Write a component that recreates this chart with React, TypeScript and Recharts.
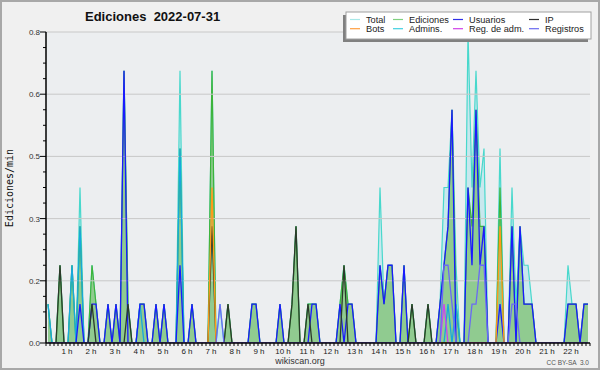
import React from "react";
import {
  ComposedChart,
  Area,
  Line,
  XAxis,
  YAxis,
  CartesianGrid,
  ReferenceLine,
} from "recharts";

// one value per 10 minutes, from 00:00 to 22:40, in edits per minute
const TOTAL = [
  0.1, 0, 0, 0.2, 0, 0, 0.2, 0, 0.4, 0, 0, 0.2,
  0.1, 0, 0, 0.1, 0, 0.1, 0, 0.7, 0.1, 0, 0, 0.1,
  0.1, 0, 0, 0.1, 0, 0.1, 0, 0, 0, 0.7, 0, 0,
  0.1, 0, 0, 0, 0, 0.7, 0, 0.1, 0, 0.1, 0, 0,
  0, 0, 0, 0.1, 0.1, 0, 0, 0, 0, 0, 0.1, 0,
  0, 0.1, 0.3, 0, 0, 0.1, 0.1, 0.1, 0, 0, 0, 0,
  0, 0.1, 0.2, 0.1, 0.1, 0, 0, 0, 0, 0, 0, 0.4,
  0.1, 0.2, 0.2, 0, 0, 0.2, 0, 0.1, 0, 0, 0, 0.1,
  0, 0, 0.1, 0.4, 0.4, 0.6, 0.2, 0, 0, 0.8, 0.4, 0.7,
  0.4, 0.5, 0, 0, 0, 0.5, 0, 0, 0.4, 0.1, 0.3, 0.2,
  0.2, 0.1, 0, 0, 0, 0, 0, 0, 0, 0, 0.2, 0.1,
  0.1, 0, 0.1, 0.1,
];

const EDITS = [
  0.1, 0, 0, 0.2, 0, 0, 0.2, 0, 0.3, 0, 0, 0.2,
  0.1, 0, 0, 0.1, 0, 0.1, 0, 0.7, 0.1, 0, 0, 0.1,
  0.1, 0, 0, 0.1, 0, 0.1, 0, 0, 0, 0.5, 0, 0,
  0.1, 0, 0, 0, 0, 0.7, 0, 0, 0, 0.1, 0, 0,
  0, 0, 0, 0.1, 0.1, 0, 0, 0, 0, 0, 0.1, 0,
  0, 0.1, 0.3, 0, 0, 0.1, 0.1, 0.1, 0, 0, 0, 0,
  0, 0.1, 0.2, 0.1, 0.1, 0, 0, 0, 0, 0, 0, 0.2,
  0.1, 0.2, 0.2, 0, 0, 0.2, 0, 0.1, 0, 0, 0, 0.1,
  0, 0, 0.1, 0.2, 0.3, 0.6, 0.1, 0, 0, 0.4, 0.3, 0.6,
  0.3, 0.3, 0, 0, 0, 0.4, 0, 0, 0.3, 0, 0.3, 0.1,
  0.1, 0.1, 0, 0, 0, 0, 0, 0, 0, 0, 0.1, 0.1,
  0.1, 0, 0.1, 0.1,
];

const USERS = [
  0, 0, 0, 0, 0, 0, 0, 0, 0.1, 0, 0, 0.1,
  0.1, 0, 0, 0.1, 0, 0.1, 0, 0.7, 0, 0, 0, 0.1,
  0.1, 0, 0, 0.1, 0, 0.1, 0, 0, 0, 0.2, 0, 0,
  0.1, 0, 0, 0, 0, 0, 0, 0, 0, 0, 0, 0,
  0, 0, 0, 0.1, 0.1, 0, 0, 0, 0, 0, 0.1, 0,
  0, 0, 0, 0, 0, 0, 0.1, 0.1, 0, 0, 0, 0,
  0, 0.1, 0, 0.1, 0.1, 0, 0, 0, 0, 0, 0, 0.2,
  0.1, 0.2, 0.2, 0, 0, 0.2, 0, 0, 0, 0, 0, 0,
  0, 0, 0.1, 0.2, 0.3, 0.6, 0, 0, 0, 0.4, 0.2, 0.6,
  0.2, 0.3, 0, 0, 0, 0.1, 0, 0, 0.3, 0, 0.3, 0.1,
  0.1, 0.1, 0, 0, 0, 0, 0, 0, 0, 0, 0.1, 0.1,
  0.1, 0, 0.1, 0.1,
];

const IP = [
  0, 0, 0, 0.2, 0, 0, 0, 0, 0, 0, 0, 0.1,
  0, 0, 0, 0, 0, 0, 0, 0, 0.1, 0, 0, 0,
  0, 0, 0, 0, 0, 0, 0, 0, 0, 0, 0, 0,
  0, 0, 0, 0, 0, 0.3, 0, 0, 0, 0.1, 0, 0,
  0, 0, 0, 0, 0, 0, 0, 0, 0, 0, 0, 0,
  0, 0.1, 0.3, 0, 0, 0.1, 0, 0, 0, 0, 0, 0,
  0, 0, 0.2, 0, 0, 0, 0, 0, 0, 0, 0, 0,
  0, 0, 0, 0, 0, 0, 0, 0.1, 0, 0, 0, 0.1,
  0, 0, 0, 0, 0, 0, 0, 0, 0, 0, 0, 0,
  0, 0, 0, 0, 0, 0, 0, 0, 0, 0, 0, 0,
  0, 0, 0, 0, 0, 0, 0, 0, 0, 0, 0, 0,
  0, 0, 0, 0,
];

const ADMINS = [
  0.1, 0, 0, 0, 0, 0, 0.2, 0, 0.3, 0, 0, 0,
  0, 0, 0, 0, 0, 0, 0, 0, 0, 0, 0, 0.1,
  0, 0, 0, 0, 0, 0, 0, 0, 0, 0.5, 0, 0,
  0, 0, 0, 0, 0, 0, 0, 0, 0, 0, 0, 0,
  0, 0, 0, 0, 0, 0, 0, 0, 0, 0, 0, 0,
  0, 0, 0, 0, 0, 0, 0, 0, 0, 0, 0, 0,
  0, 0, 0, 0, 0, 0, 0, 0, 0, 0, 0, 0,
  0, 0, 0, 0, 0, 0, 0, 0, 0, 0, 0, 0,
  0, 0, 0, 0, 0.1, 0, 0.1, 0, 0, 0, 0, 0,
  0, 0, 0, 0, 0, 0, 0, 0, 0, 0, 0, 0,
  0, 0, 0, 0, 0, 0, 0, 0, 0, 0, 0, 0,
  0, 0, 0, 0,
];

const BOTS = [
  0, 0, 0, 0, 0, 0, 0, 0, 0, 0, 0, 0,
  0, 0, 0, 0, 0, 0, 0, 0, 0, 0, 0, 0,
  0, 0, 0, 0, 0, 0, 0, 0, 0, 0, 0, 0,
  0, 0, 0, 0, 0, 0.4, 0, 0, 0, 0, 0, 0,
  0, 0, 0, 0, 0, 0, 0, 0, 0, 0, 0, 0,
  0, 0, 0, 0, 0, 0, 0, 0, 0, 0, 0, 0,
  0, 0, 0, 0, 0, 0, 0, 0, 0, 0, 0, 0,
  0, 0, 0, 0, 0, 0, 0, 0, 0, 0, 0, 0,
  0, 0, 0, 0, 0, 0, 0, 0, 0, 0, 0, 0,
  0, 0, 0, 0, 0, 0.3, 0, 0, 0, 0, 0, 0,
  0, 0, 0, 0, 0, 0, 0, 0, 0, 0, 0, 0,
  0, 0, 0, 0,
];

const REG_ADM = [
  0, 0, 0, 0, 0, 0, 0, 0, 0, 0, 0, 0,
  0, 0, 0, 0, 0, 0, 0, 0, 0, 0, 0, 0,
  0, 0, 0, 0, 0, 0, 0, 0, 0, 0, 0, 0,
  0, 0, 0, 0, 0, 0, 0, 0, 0, 0, 0, 0,
  0, 0, 0, 0, 0, 0, 0, 0, 0, 0, 0, 0,
  0, 0, 0, 0, 0, 0, 0, 0, 0, 0, 0, 0,
  0, 0, 0, 0, 0, 0, 0, 0, 0, 0, 0, 0,
  0, 0, 0, 0, 0, 0, 0, 0, 0, 0, 0, 0,
  0, 0, 0, 0.1, 0, 0, 0, 0, 0, 0, 0, 0,
  0, 0, 0, 0, 0, 0, 0, 0, 0, 0, 0, 0,
  0, 0, 0, 0, 0, 0, 0, 0, 0, 0, 0, 0,
  0, 0, 0, 0,
];

const LOGS = [
  0, 0, 0, 0, 0, 0, 0, 0, 0, 0, 0, 0,
  0, 0, 0, 0, 0, 0, 0, 0, 0, 0, 0, 0,
  0, 0, 0, 0, 0, 0, 0, 0, 0, 0, 0, 0,
  0, 0, 0, 0, 0, 0, 0, 0.1, 0, 0, 0, 0,
  0, 0, 0, 0, 0, 0, 0, 0, 0, 0, 0, 0,
  0, 0, 0, 0, 0, 0, 0, 0, 0, 0, 0, 0,
  0, 0, 0, 0, 0, 0, 0, 0, 0, 0, 0, 0,
  0, 0, 0, 0, 0, 0, 0, 0, 0, 0, 0, 0,
  0, 0, 0, 0.2, 0.2, 0.1, 0, 0, 0, 0, 0.1, 0.1,
  0.2, 0.2, 0, 0, 0, 0, 0, 0, 0.1, 0.1, 0, 0,
  0, 0, 0, 0, 0, 0, 0, 0, 0, 0, 0, 0,
  0, 0, 0, 0,
];

const HOUR_LABELS = [
  "1 h", "2 h", "3 h", "4 h", "5 h", "6 h", "7 h", "8 h", "9 h", "10 h", "11 h",
  "12 h", "13 h", "14 h", "15 h", "16 h", "17 h", "18 h", "19 h", "20 h", "21 h", "22 h",
];
const Y_LABELS = ["0.0", "0.2", "0.3", "0.5", "0.6", "0.8"];
const Y_GRID = [0.16, 0.32, 0.48, 0.64, 0.8];

const SLOTS_PER_HOUR = 6;

const data = TOTAL.map((t, i) => ({
  i,
  total: t,
  edits: EDITS[i],
  users: USERS[i],
  ip: IP[i],
  admins: ADMINS[i],
  bots: BOTS[i],
  regAdm: REG_ADM[i],
  logs: LOGS[i],
}));

// a tick at every 10 minute boundary, a label every hour
const xTicks = Array.from({ length: TOTAL.length + 1 }, (_, k) => k - 0.5);
const yTicks = Array.from({ length: 21 }, (_, k) => k * 0.04);

const FONT = "'Liberation Sans', Arial, sans-serif";

function XTick({ x, y, payload }: any) {
  const k = Math.round(payload.value + 0.5);
  const label =
    k > 0 && k % SLOTS_PER_HOUR === 0 ? HOUR_LABELS[k / SLOTS_PER_HOUR - 1] : null;
  return (
    <g>
      <line x1={x} y1={y} x2={x} y2={y + 3} stroke="#000" />
      {label && (
        <text x={x - 3} y={y + 11} textAnchor="middle" fontSize={8} fontFamily={FONT} fill="#222">
          {label}
        </text>
      )}
    </g>
  );
}

function YTick({ x, y, payload }: any) {
  const k = Math.round(payload.value / 0.04);
  const major = k % 4 === 0;
  return (
    <g>
      <line x1={x - (major ? 6 : 3)} y1={y} x2={x} y2={y} stroke="#000" />
      {major && (
        <text x={x - 6} y={y + 3} textAnchor="end" fontSize={8} fontFamily={FONT} fill="#333">
          {Y_LABELS[k / 4]}
        </text>
      )}
    </g>
  );
}

const LEGEND = [
  { name: "Total", color: "#a8e8e8", col: 0, row: 0 },
  { name: "Bots", color: "#ff9f40", col: 0, row: 1 },
  { name: "Ediciones", color: "#80d080", col: 1, row: 0 },
  { name: "Admins.", color: "#40d0e0", col: 1, row: 1 },
  { name: "Usuarios", color: "#3030e8", col: 2, row: 0 },
  { name: "Reg. de adm.", color: "#d040e8", col: 2, row: 1 },
  { name: "IP", color: "#303030", col: 3, row: 0 },
  { name: "Registros", color: "#6a6af0", col: 3, row: 1 },
];
const LEGEND_COLS = [350, 393, 453, 529];

export default function App() {
  return (
    <div
      style={{
        position: "absolute",
        left: 0,
        top: 0,
        width: 600,
        height: 370,
        background: "#f0f0f0",
      }}
    >
      <ComposedChart
        width={600}
        height={370}
        data={data}
        margin={{ top: 32, right: 10, left: 0, bottom: 0 }}
      >
        <CartesianGrid fill="#eceef0" stroke="none" horizontal={false} vertical={false} />
        {Y_GRID.map((v) => (
          <ReferenceLine key={v} y={v} stroke="#c8c8c8" strokeWidth={1} />
        ))}
        <Area
          type="linear"
          dataKey="total"
          stroke="#48d8cc"
          strokeWidth={1.2}
          fill="#c8e8ee"
          fillOpacity={1}
          isAnimationActive={false}
        />
        <Area
          type="linear"
          dataKey="edits"
          stroke="#3cb43c"
          strokeWidth={1.2}
          fill="#90cb90"
          fillOpacity={1}
          isAnimationActive={false}
        />
        <Line type="linear" dataKey="admins" stroke="#18a8dc" strokeWidth={1.3} dot={false} isAnimationActive={false} />
        <Line type="linear" dataKey="users" stroke="#1a1aff" strokeWidth={1.3} dot={false} isAnimationActive={false} />
        <Line type="linear" dataKey="ip" stroke="#2a3a2a" strokeWidth={1.3} dot={false} isAnimationActive={false} />
        <Line type="linear" dataKey="bots" stroke="#ff9a1a" strokeWidth={1.3} dot={false} isAnimationActive={false} />
        <Line type="linear" dataKey="regAdm" stroke="#cc44ee" strokeWidth={1.3} dot={false} isAnimationActive={false} />
        <Line type="linear" dataKey="logs" stroke="#6a6af4" strokeWidth={1.3} dot={false} isAnimationActive={false} />
        <XAxis
          dataKey="i"
          type="number"
          domain={[-0.5, TOTAL.length - 0.5]}
          ticks={xTicks}
          interval={0}
          height={27}
          tickSize={0}
          tickMargin={0}
          tick={<XTick />}
          axisLine={{ stroke: "#000", strokeWidth: 1.5 }}
          allowDataOverflow
        />
        <YAxis
          type="number"
          domain={[0, 0.8]}
          ticks={yTicks}
          interval={0}
          width={46}
          tickSize={0}
          tickMargin={0}
          tick={<YTick />}
          axisLine={{ stroke: "#000", strokeWidth: 1.5 }}
          allowDataOverflow
        />
      </ComposedChart>

      <svg
        width={600}
        height={370}
        style={{ position: "absolute", left: 0, top: 0, pointerEvents: "none" }}
      >
        <rect x={1} y={1} width={598} height={368} fill="none" stroke="#a8a8a8" strokeWidth={2} />
        <text
          x={85}
          y={21}
          fontSize={13}
          fontWeight="bold"
          fontFamily={FONT}
          fill="#111"
          style={{ whiteSpace: "pre" }}
        >
          {"Ediciones  2022-07-31"}
        </text>
        <text
          transform="translate(13,188) rotate(-90)"
          textAnchor="middle"
          fontSize={10}
          fontFamily="'DejaVu Sans Mono', monospace"
          fill="#111"
        >
          Ediciones/min
        </text>
        <text x={300} y={364} textAnchor="middle" fontSize={9} fontFamily={FONT} fill="#333">
          wikiscan.org
        </text>
        <text
          x={589}
          y={365}
          textAnchor="end"
          fontSize={6.5}
          fontFamily={FONT}
          fill="#555"
          style={{ whiteSpace: "pre" }}
        >
          {"CC BY-SA  3.0"}
        </text>

        <rect x={343} y={15} width={245} height={27} fill="#808080" />
        <rect x={346} y={12} width={245} height={27} fill="#fff" stroke="#a0a0a0" />
        {LEGEND.map((l) => {
          const x = LEGEND_COLS[l.col];
          const y = l.row === 0 ? 19.5 : 28.7;
          return (
            <g key={l.name}>
              <line x1={x} y1={y} x2={x + 10} y2={y} stroke={l.color} strokeWidth={1.2} />
              <text x={x + 16} y={y + 3} fontSize={9.2} fontFamily={FONT} fill="#222">
                {l.name}
              </text>
            </g>
          );
        })}
      </svg>
    </div>
  );
}
